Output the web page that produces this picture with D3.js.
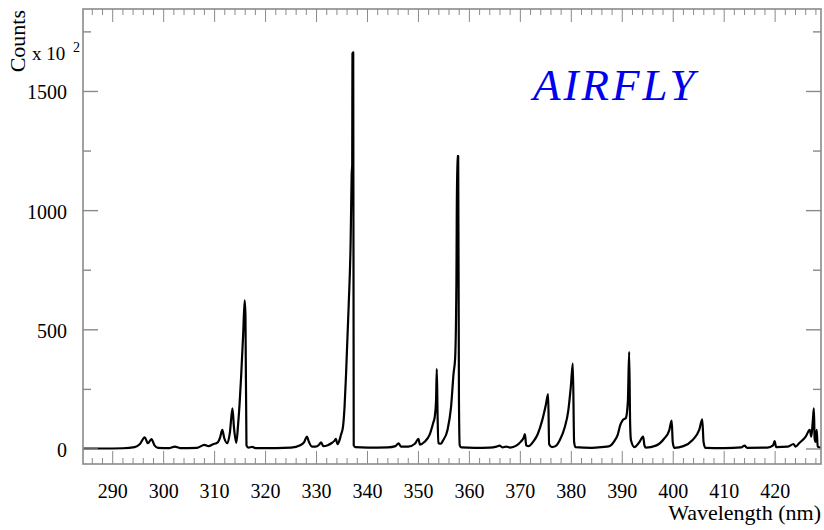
<!DOCTYPE html>
<html>
<head>
<meta charset="utf-8">
<script src="https://cdn.jsdelivr.net/npm/d3@7"></script>
<style>
  html, body { margin: 0; padding: 0; background: #fff; }
  svg { display: block; }
  text { font-family: "Liberation Serif", "DejaVu Serif", serif; }
</style>
</head>
<body>
<svg id="chart" width="824" height="530"></svg>
<script>
// ---- data (counts in units of 10^2) ----
const wavelength = [284.2,288,292,294.3,295.3,296.3,296.9,297.6,298.2,298.9,301.2,302.2,303.2,306.5,308.0,308.8,309.7,310.6,311.1,311.5,311.9,312.5,313.0,313.5,313.8,314.25,314.6,314.9,315.2,315.6,315.9,316.05,316.25,316.6,317.4,318.0,322,325,326.8,327.6,328.1,328.5,329.1,329.8,330.5,330.9,331.3,332.2,332.9,333.5,333.8,334.1,334.4,334.8,335.2,335.5,335.8,336.3,336.7,336.9,337.0,337.05,337.2,337.3,337.6,340,344,345.5,346.1,346.6,348,349.3,350.0,350.3,351.2,352.2,352.9,353.2,353.45,353.6,353.75,353.9,354.4,354.8,355.7,356.4,356.9,357.2,357.45,357.6,357.8,357.95,358.1,358.4,361,364,365.3,365.9,366.5,367.2,368,369.2,370.1,370.6,370.9,371.15,371.6,372.5,373.4,374.3,375.0,375.45,375.65,376.2,376.9,377.8,378.7,379.4,379.9,380.3,380.55,380.8,384,386,387.5,388.5,389.1,389.6,390.1,390.7,391.1,391.35,391.55,391.7,392.4,393.3,394.1,394.35,394.6,396.6,398.2,399.2,399.7,399.9,400.2,402,403.8,405.1,405.7,405.95,406.3,410,413.4,414.0,414.5,418.5,419.6,419.9,420.2,422.5,423.6,424.0,424.7,426.0,426.8,427.1,427.4,427.6,427.75,427.95,428.15,428.35,429.0];
const counts = [2,2,3,8,20,49,24,41,15,5,4,10,4,5,17,12,20,28,50,80,45,24,70,170,90,26,100,190,303,480,624,560,15,6,9,4,4,6,16,30,52,30,10,10,18,28,12,16,24,34,42,20,30,60,94,177,318,597,876,1156,1190,1660,1664,15,8,6,7,12,24,10,10,22,42,18,30,60,110,135,200,336,150,25,22,35,80,177,318,380,700,1229,1229,200,15,7,5,6,10,14,7,10,6,14,31,45,62,15,12,30,62,121,185,230,20,8,12,40,90,160,261,359,30,8,5,8,12,35,59,100,121,130,200,408,100,38,8,27,52,15,6,14,43,77,119,30,5,12,38,80,124,30,5,4,7,14,5,6,15,33,8,10,21,10,24,52,80,52,120,170,45,30,80,10,5];
const xTickValues = [290,300,310,320,330,340,350,360,370,380,390,400,410,420];
const yTickValues = [0,500,1000,1500];
const xLabel = "Wavelength (nm)";
const yLabel = "Counts";
const yMultiplier = "x 10";
const yExponent = "2";
const title = "AIRFLY";

// ---- layout ----
const svg = d3.select("#chart");
const L = 83, R = 821, T = 9, B = 464;
const x = d3.scaleLinear().domain([284.17, 429.0]).range([L, R]);
const y = d3.scaleLinear().domain([-63, 1846]).range([B, T]);
const axisColor = "#8a8a8a";

// clip
svg.append("defs").append("clipPath").attr("id","clip")
  .append("rect").attr("x", L).attr("y", T).attr("width", R - L).attr("height", B - T);

// spectrum line
const data = wavelength.map((w, i) => [w, counts[i]]);
svg.append("path")
  .datum(data)
  .attr("clip-path", "url(#clip)")
  .attr("fill", "none")
  .attr("stroke", "#000")
  .attr("stroke-width", 2.2)
  .attr("stroke-linejoin", "round")
  .attr("d", d3.line().curve(d3.curveMonotoneX).x(d => x(d[0])).y(d => y(d[1])));

// frame
svg.append("rect").attr("x", L).attr("y", T).attr("width", R - L).attr("height", B - T)
  .attr("fill", "none").attr("stroke", axisColor).attr("stroke-width", 1.6);

// x ticks (bottom: upward, top: downward)
const xMinor = d3.range(286, 429.01, 2).filter(v => v % 10 !== 0);
const xg = svg.append("g").attr("stroke", axisColor).attr("stroke-width", 1);
xTickValues.forEach(v => {
  xg.append("line").attr("x1", x(v)).attr("x2", x(v)).attr("y1", B).attr("y2", B - 13);
  xg.append("line").attr("x1", x(v)).attr("x2", x(v)).attr("y1", T).attr("y2", T + 13);
});
xMinor.forEach(v => {
  xg.append("line").attr("x1", x(v)).attr("x2", x(v)).attr("y1", B).attr("y2", B - 6);
  xg.append("line").attr("x1", x(v)).attr("x2", x(v)).attr("y1", T).attr("y2", T + 6);
});

// y ticks (left and right)
const yMinor = [250, 750, 1250, 1750];
const yg = svg.append("g").attr("stroke", axisColor).attr("stroke-width", 1.4);
yTickValues.forEach(v => {
  yg.append("line").attr("x1", L).attr("x2", L + 15).attr("y1", y(v)).attr("y2", y(v));
  yg.append("line").attr("x1", R).attr("x2", R - 15).attr("y1", y(v)).attr("y2", y(v));
});
yMinor.forEach(v => {
  yg.append("line").attr("x1", L).attr("x2", L + 8).attr("y1", y(v)).attr("y2", y(v));
  yg.append("line").attr("x1", R).attr("x2", R - 8).attr("y1", y(v)).attr("y2", y(v));
});

// tick labels
svg.append("g").selectAll("text").data(xTickValues).join("text")
  .attr("x", d => x(d)).attr("y", 498)
  .attr("text-anchor", "middle").attr("font-size", 20).attr("fill", "#000")
  .text(d => d);
svg.append("g").selectAll("text").data(yTickValues).join("text")
  .attr("x", 67).attr("y", d => y(d) + 8)
  .attr("text-anchor", "end").attr("font-size", 20).attr("fill", "#000")
  .text(d => d);

// axis titles
svg.append("text").attr("x", 821).attr("y", 520).attr("text-anchor", "end")
  .attr("font-size", 22).attr("fill", "#000").text(xLabel);
svg.append("text").attr("transform", "translate(25,10) rotate(-90)")
  .attr("text-anchor", "end").attr("font-size", 22).attr("fill", "#000").text(yLabel);
svg.append("text").attr("x", 32).attr("y", 60).attr("font-size", 19).attr("fill", "#000").text(yMultiplier);
svg.append("text").attr("x", 73).attr("y", 52).attr("font-size", 14).attr("fill", "#000").text(yExponent);

// title
svg.append("text").attr("x", 533).attr("y", 100)
  .attr("font-size", 45).attr("font-style", "italic").attr("letter-spacing", 3)
  .attr("fill", "#0000ee").text(title);
</script>
</body>
</html>
